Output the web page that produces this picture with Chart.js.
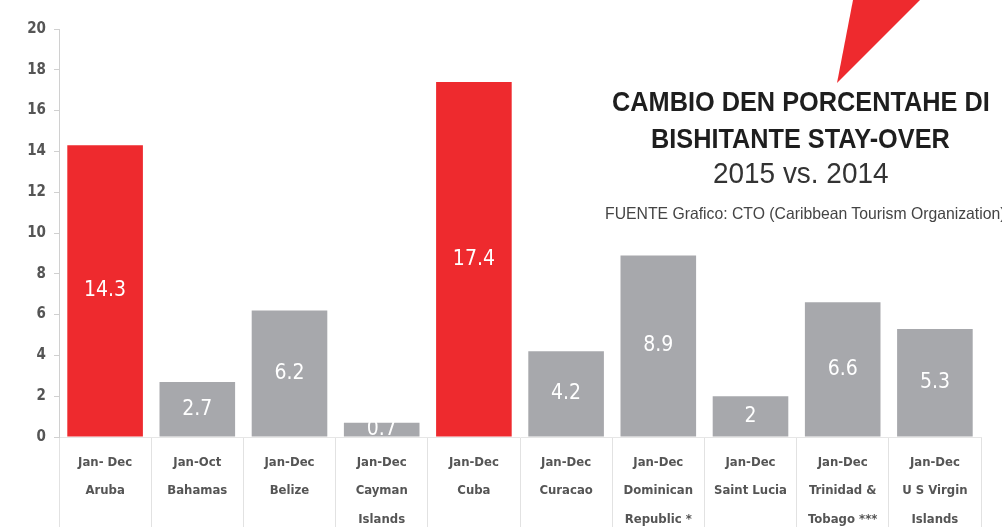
<!DOCTYPE html>
<html>
<head>
<meta charset="utf-8">
<script src="https://cdn.jsdelivr.net/npm/chart.js@4"></script>
<style>
  html, body { margin: 0; padding: 0; background: #fff; }
  #wrap { position: relative; width: 1002px; height: 527px; overflow: hidden; }
  #chart { position: absolute; left: 0; top: 0; }
  .ttl { position: absolute; color: #1e1e1e; font-family: "Liberation Sans", Arial, sans-serif;
         white-space: nowrap; transform-origin: 0 0; line-height: 1; }
  #t1 { left: 612px; top: 88px; font-size: 28px; font-weight: bold; }
  #t2 { left: 651px; top: 125px; font-size: 28px; font-weight: bold; }
  #t3 { left: 713px; top: 158px; font-size: 30px; font-weight: normal; color: #333; }
  #src { left: 605px; top: 205px; font-size: 16.5px; color: #444; }
  #arrow { position: absolute; left: 0; top: 0; }
</style>
</head>
<body>
<div id="wrap">
  <canvas id="chart" width="1002" height="527"></canvas>
  <svg id="arrow" width="1002" height="100"><polygon points="853,0 920,0 837,83" fill="#ee2a2e"/></svg>
  <div class="ttl" id="t1" data-w="378">CAMBIO DEN PORCENTAHE DI</div>
  <div class="ttl" id="t2" data-w="299">BISHITANTE STAY-OVER</div>
  <div class="ttl" id="t3" data-w="175">2015 vs. 2014</div>
  <div class="ttl" id="src" data-w="400">FUENTE Grafico: CTO (Caribbean Tourism Organization)</div>
</div>
<script>
// Cambio % bishitante stay-over 2015 vs 2014
const periods = ['Jan- Dec', 'Jan-Oct', 'Jan-Dec', 'Jan-Dec', 'Jan-Dec', 'Jan-Dec', 'Jan-Dec', 'Jan-Dec', 'Jan-Dec', 'Jan-Dec'];
const countries = [['Aruba'], ['Bahamas'], ['Belize'], ['Cayman', 'Islands'], ['Cuba'], ['Curacao'],
  ['Dominican', 'Republic *'], ['Saint Lucia'], ['Trinidad &', 'Tobago ***'], ['U S Virgin', 'Islands']];
const values = [14.3, 2.7, 6.2, 0.7, 17.4, 4.2, 8.9, 2, 6.6, 5.3];
const highlight = ['Aruba', 'Cuba'];
const yTicks = [0, 2, 4, 6, 8, 10, 12, 14, 16, 18, 20];

const RED = '#ee2a2e';
const GRAY = '#a7a8ac';
const narrow = '"DejaVu Sans Condensed", "Liberation Sans", sans-serif';

// squeeze the title lines to look condensed
document.querySelectorAll('.ttl').forEach(el => {
  const s = Number(el.dataset.w) / el.offsetWidth;
  el.style.transform = 'scaleX(' + s.toFixed(3) + ')';
});

const labels = periods.map((p, i) => [p].concat(countries[i]));
const colors = countries.map(c => highlight.includes(c[0]) ? RED : GRAY);

// white value labels in the middle of each bar
const barValues = {
  id: 'barValues',
  afterDatasetsDraw(chart) {
    const ctx = chart.ctx;
    const meta = chart.getDatasetMeta(0);
    ctx.save();
    ctx.fillStyle = '#fff';
    ctx.font = '21px ' + narrow;
    ctx.textAlign = 'center';
    ctx.textBaseline = 'middle';
    meta.data.forEach((bar, i) => {
      ctx.fillText(String(values[i]), bar.x, (bar.y + bar.base) / 2);
    });
    ctx.restore();
  }
};

new Chart(document.getElementById('chart'), {
  type: 'bar',
  data: {
    labels: labels,
    datasets: [{
      data: values,
      backgroundColor: colors,
      barPercentage: 0.82,
      categoryPercentage: 1
    }]
  },
  options: {
    responsive: false,
    animation: false,
    layout: { padding: { top: 29, right: 21, left: 0, bottom: 0 } },
    plugins: { legend: { display: false }, tooltip: { enabled: false } },
    scales: {
      x: {
        grid: { display: true, drawOnChartArea: false, drawTicks: true, tickLength: 90, color: '#e2e2e2' },
        border: { display: true, color: '#e6e6e6' },
        ticks: {
          color: '#555',
          font: { family: narrow, size: 13, weight: 'bold', lineHeight: 2.2 },
          padding: -79,
          maxRotation: 0,
          autoSkip: false
        },
        afterFit(scale) { scale.height = 90; }
      },
      y: {
        min: 0,
        max: 20,
        afterBuildTicks(scale) { scale.ticks = yTicks.map(v => ({ value: v })); },
        grid: { drawOnChartArea: false, drawTicks: true, tickLength: 5, color: '#d0d0d0' },
        border: { display: true, color: '#d0d0d0' },
        ticks: {
          color: '#555',
          font: { family: narrow, size: 15, weight: 'bold' },
          padding: 8
        },
        afterFit(scale) { scale.width = 59; }
      }
    }
  },
  plugins: [barValues]
});
</script>
</body>
</html>
